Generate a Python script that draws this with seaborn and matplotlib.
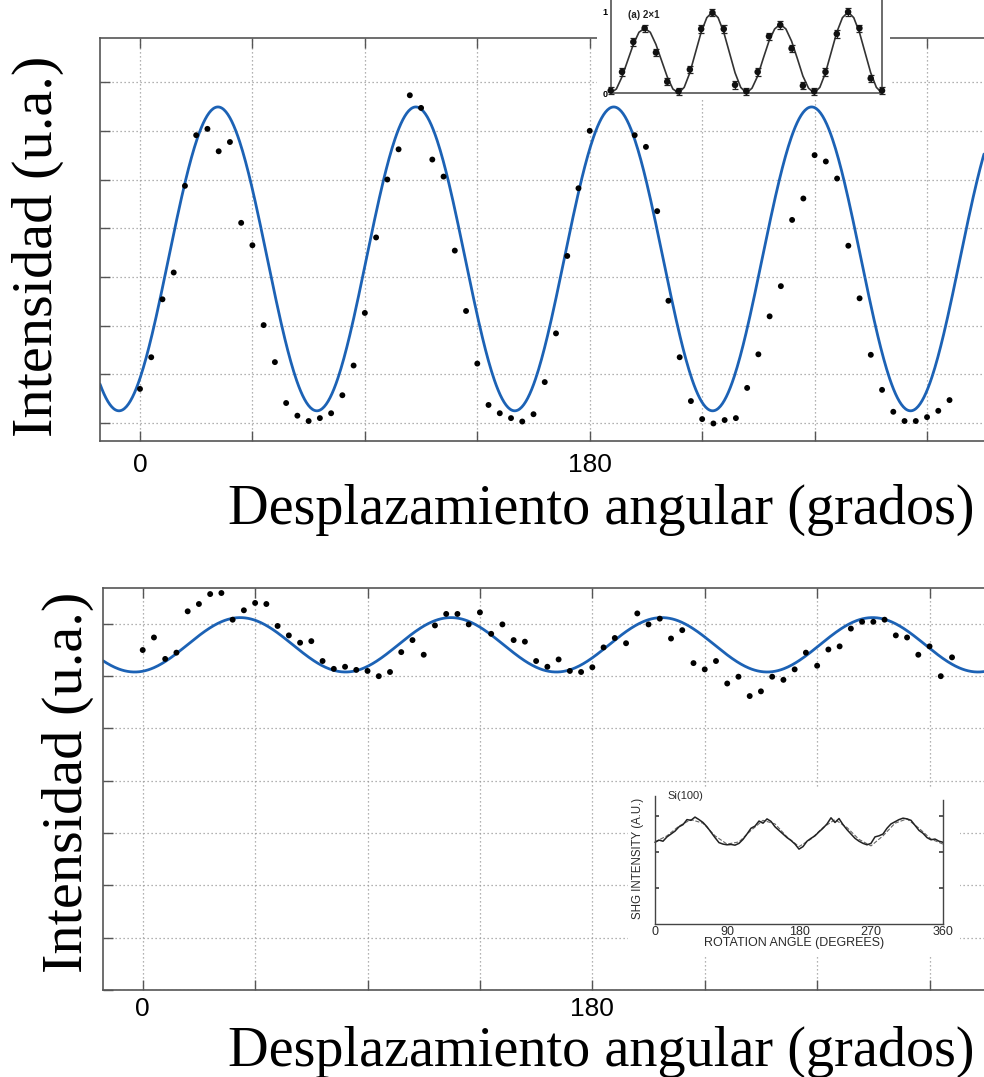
import numpy as np
import pandas as pd
import matplotlib
matplotlib.use("Agg")
import matplotlib.pyplot as plt
import seaborn as sns

# ---------------------------------------------------------------------------
# Measured SHG intensity versus angular displacement (degrees)
# ---------------------------------------------------------------------------
top_angle = [0, 4.5, 9, 13.5, 18, 22.5, 27, 31.5, 36, 40.5, 45, 49.5, 54, 58.5,
             63, 67.5, 72, 76.5, 81, 85.5, 90, 94.5, 99, 103.5, 108, 112.5, 117,
             121.5, 126, 130.5, 135, 139.5, 144, 148.5, 153, 157.5, 162, 166.5,
             171, 175.5, 180, 198, 202.5, 207, 211.5, 216, 220.5, 225, 229.5,
             234, 238.5, 243, 247.5, 252, 256.5, 261, 265.5, 270, 274.5, 279,
             283.5, 288, 292.5, 297, 301.5, 306, 310.5, 315, 319.5, 324]
top_intensity = [0.70, 1.35, 2.54, 3.09, 4.87, 5.91, 6.04, 5.58, 5.77, 4.11,
                 3.65, 2.01, 1.25, 0.41, 0.15, 0.04, 0.10, 0.20, 0.57, 1.18,
                 2.26, 3.81, 5.00, 5.62, 6.73, 6.47, 5.41, 5.06, 3.54, 2.30,
                 1.22, 0.37, 0.20, 0.10, 0.03, 0.18, 0.84, 1.84, 3.43, 4.82,
                 6.00, 5.91, 5.67, 4.35, 2.51, 1.35, 0.45, 0.08, -0.01, 0.06,
                 0.10, 0.72, 1.41, 2.19, 2.81, 4.17, 4.61, 5.50, 5.37, 5.02,
                 3.64, 2.56, 1.40, 0.68, 0.23, 0.04, 0.04, 0.12, 0.25, 0.47]

bottom_angle = [0, 4.5, 9, 13.5, 18, 22.5, 27, 31.5, 36, 40.5, 45, 49.5, 54,
                58.5, 63, 67.5, 72, 76.5, 81, 85.5, 90, 94.5, 99, 103.5, 108,
                112.5, 117, 121.5, 126, 130.5, 135, 139.5, 144, 148.5, 153,
                157.5, 162, 166.5, 171, 175.5, 180, 184.5, 189, 193.5, 198,
                202.5, 207, 211.5, 216, 220.5, 225, 229.5, 234, 238.5, 243,
                247.5, 252, 256.5, 261, 265.5, 270, 274.5, 279, 283.5, 288,
                292.5, 297, 301.5, 306, 310.5, 315, 319.5, 324]
bottom_intensity = [6.50, 6.74, 6.33, 6.45, 7.24, 7.38, 7.57, 7.59, 7.08, 7.26,
                    7.40, 7.38, 6.96, 6.78, 6.64, 6.67, 6.29, 6.14, 6.18, 6.12,
                    6.10, 6.00, 6.08, 6.46, 6.69, 6.41, 6.97, 7.19, 7.19, 6.99,
                    7.22, 6.81, 6.99, 6.69, 6.66, 6.29, 6.18, 6.32, 6.10, 6.08,
                    6.17, 6.55, 6.73, 6.63, 7.20, 6.99, 7.10, 6.72, 6.88, 6.25,
                    6.13, 6.29, 5.86, 5.99, 5.62, 5.71, 5.99, 5.93, 6.13, 6.45,
                    6.20, 6.51, 6.57, 6.91, 7.04, 7.04, 7.08, 6.78, 6.74, 6.41,
                    6.57, 6.00, 6.36]

# Sinusoidal fits: offset, amplitude, period (deg), angle of maximum (deg)
top_fit = (0.25, 6.24, 79.2, 31.2)
bottom_fit = (6.08, 1.04, 84.4, 39.0)

x_tick_values = [0, 45, 90, 135, 180, 225, 270, 315]
x_tick_labels = ["0", "", "", "", "180", "", "", ""]

# ---------------------------------------------------------------------------
# Reference panel (a) 2x1: normalised points with error bars and fitted curve
# ---------------------------------------------------------------------------
ref_a_angle = [0, 15, 30, 45, 60, 75, 90, 105, 120, 135, 150, 165, 180, 195,
               210, 225, 240, 255, 270, 285, 300, 315, 330, 345, 360]
ref_a_points = [0.03, 0.26, 0.63, 0.80, 0.50, 0.14, 0.02, 0.29, 0.79, 0.99,
                0.79, 0.10, 0.02, 0.26, 0.70, 0.84, 0.55, 0.09, 0.02, 0.26,
                0.73, 1.00, 0.80, 0.18, 0.03]
ref_a_err = 0.045
ref_a_curve_angle = [0, 7.5, 15, 22.5, 30, 37.5, 45, 52.5, 60, 67.5, 75, 82.5,
                     90, 97.5, 105, 112.5, 120, 127.5, 135, 142.5, 150, 157.5,
                     165, 172.5, 180, 187.5, 195, 202.5, 210, 217.5, 225, 232.5,
                     240, 247.5, 255, 262.5, 270, 277.5, 285, 292.5, 300, 307.5,
                     315, 322.5, 330, 337.5, 345, 352.5, 360]
ref_a_curve = [0.00, 0.05, 0.20, 0.40, 0.60, 0.75, 0.80, 0.75, 0.60, 0.40,
               0.20, 0.05, 0.00, 0.07, 0.25, 0.50, 0.75, 0.93, 1.00, 0.93,
               0.75, 0.50, 0.25, 0.07, 0.00, 0.06, 0.21, 0.43, 0.64, 0.79,
               0.85, 0.79, 0.64, 0.43, 0.21, 0.06, 0.00, 0.07, 0.25, 0.50,
               0.75, 0.93, 1.00, 0.93, 0.75, 0.50, 0.25, 0.07, 0.00]

# ---------------------------------------------------------------------------
# Reference panel Si(100): recorded SHG signal and its fit
# ---------------------------------------------------------------------------
ref_b_angle = [0, 5, 10, 15, 20, 25, 30, 35, 40, 45, 50, 55, 60, 65, 70, 75,
               80, 85, 90, 95, 100, 105, 110, 115, 120, 125, 130, 135, 140,
               145, 150, 155, 160, 165, 170, 175, 180, 185, 190, 195, 200, 205,
               210, 215, 220, 225, 230, 235, 240, 245, 250, 255, 260, 265, 270,
               275, 280, 285, 290, 295, 300, 305, 310, 315, 320, 325, 330, 335,
               340, 345, 350, 355, 360]
ref_b_signal = [2.27, 2.33, 2.30, 2.42, 2.50, 2.58, 2.70, 2.76, 2.90, 2.88,
                2.97, 2.90, 2.82, 2.70, 2.55, 2.40, 2.26, 2.22, 2.20, 2.21,
                2.19, 2.24, 2.35, 2.50, 2.66, 2.72, 2.86, 2.80, 2.92, 2.85,
                2.70, 2.60, 2.50, 2.40, 2.32, 2.22, 2.08, 2.15, 2.30, 2.38,
                2.45, 2.56, 2.66, 2.78, 2.95, 2.82, 2.93, 2.76, 2.62, 2.50,
                2.38, 2.30, 2.24, 2.20, 2.24, 2.42, 2.45, 2.50, 2.66, 2.78,
                2.84, 2.90, 2.94, 2.92, 2.88, 2.74, 2.60, 2.52, 2.40, 2.34,
                2.36, 2.30, 2.27]
ref_b_fit_angle = [0, 15, 30, 45, 60, 75, 90, 105, 120, 135, 150, 165, 180,
                   195, 210, 225, 240, 255, 270, 285, 300, 315, 330, 345, 360]
ref_b_fit = [2.28, 2.45, 2.72, 2.90, 2.80, 2.45, 2.22, 2.28, 2.60, 2.88, 2.78,
             2.42, 2.15, 2.36, 2.68, 2.90, 2.68, 2.35, 2.17, 2.45, 2.80, 2.92,
             2.66, 2.36, 2.22]
ref_b_ticks = [0, 90, 180, 270, 360]


def sin2_fit(theta, params):
    offset, amp, period, peak = params
    return offset + amp * np.cos(np.pi * (theta - peak) / period) ** 2


# ---------------------------------------------------------------------------
sns.set_theme(style="white")
plt.rcParams["font.family"] = ["Liberation Sans", "DejaVu Sans"]
plt.rcParams["text.color"] = "black"
plt.rcParams["axes.labelcolor"] = "black"
plt.rcParams["xtick.labelcolor"] = "black"
plt.rcParams["ytick.labelcolor"] = "black"

W, H = 984, 1077
fig = plt.figure(figsize=(W / 100, H / 100), dpi=100)
fig.patch.set_facecolor("white")


def rect(left, top, right, bottom):
    return [left / W, 1 - bottom / H, (right - left) / W, (bottom - top) / H]


SERIF = ["Liberation Serif", "DejaVu Serif"]
BLUE = "#1c62b5"
SPINE = "#555555"
INK = "#2a2a2a"


def style_main(ax, xlim, ylim, label_pad):
    ax.set_xlim(*xlim)
    ax.set_ylim(*ylim)
    ax.set_xticks(x_tick_values)
    ax.set_xticklabels(x_tick_labels)
    ax.set_yticks(range(0, 8))
    ax.set_yticklabels([])
    ax.grid(True, linestyle=(0, (1, 2.2)), color="#999999", linewidth=0.9)
    ax.tick_params(axis="x", direction="in", length=7, width=1, color=SPINE,
                   top=True, bottom=True, labelsize=19, pad=label_pad,
                   labelcolor="black")
    ax.tick_params(axis="y", direction="in", length=7, width=1, color=SPINE,
                   left=True, right=False)
    for side in ("left", "top", "bottom"):
        ax.spines[side].set_color(SPINE)
        ax.spines[side].set_linewidth(1.2)
    ax.spines["right"].set_visible(False)
    ax.set_xlabel("")
    ax.set_ylabel("")
    ax.set_facecolor("white")


# ----------------------------- upper panel ---------------------------------
ax1 = fig.add_axes(rect(100, 38, W, 441))
top_xlim = (-16.0, 337.8)
theta1 = np.linspace(top_xlim[0], top_xlim[1], 900)
sns.lineplot(x=theta1, y=sin2_fit(theta1, top_fit), ax=ax1, color=BLUE,
             linewidth=2.0, zorder=2)
df_top = pd.DataFrame({"angle": top_angle, "intensity": top_intensity})
sns.scatterplot(data=df_top, x="angle", y="intensity", ax=ax1, color="black",
                s=18, edgecolor="none", zorder=3)
style_main(ax1, top_xlim, (-0.37, 7.906), 9)

# ----------------------------- lower panel ---------------------------------
ax2 = fig.add_axes(rect(103, 588, W, 990))
bottom_xlim = (-15.9, 336.8)
theta2 = np.linspace(bottom_xlim[0], bottom_xlim[1], 900)
sns.lineplot(x=theta2, y=sin2_fit(theta2, bottom_fit), ax=ax2, color=BLUE,
             linewidth=2.0, zorder=2)
df_bot = pd.DataFrame({"angle": bottom_angle, "intensity": bottom_intensity})
sns.scatterplot(data=df_bot, x="angle", y="intensity", ax=ax2, color="black",
                s=18, edgecolor="none", zorder=3)
style_main(ax2, bottom_xlim, (0, 7.686), 5)

# axis titles
for yc, xc in ((246, 38), (782, 68)):
    fig.text(xc / W, 1 - yc / H, "Intensidad (u.a.)", rotation=90,
             ha="center", va="center", fontsize=42, family=SERIF,
             color="black")
for yc in (510, 1052):
    fig.text(601 / W, 1 - yc / H, "Desplazamiento angular (grados)",
             ha="center", va="center", fontsize=40.5, family=SERIF,
             color="black")

# ----------------------- inset (a) 2x1 on upper panel ----------------------
axa = fig.add_axes(rect(597, 0, 890, 100))
axa.set_facecolor("white")
sns.lineplot(x=ref_a_curve_angle, y=ref_a_curve, ax=axa, color="#333333",
             linewidth=1.2)
axa.errorbar(ref_a_angle, ref_a_points, yerr=ref_a_err, fmt="none",
             ecolor="#222222", elinewidth=0.9, capsize=2.2, capthick=0.9)
sns.scatterplot(x=ref_a_angle, y=ref_a_points, ax=axa, color="#111111", s=22,
                edgecolor="none", zorder=4)
axa.set_xlim(-18.2, 370.6)
axa.set_ylim(-0.086, 1.148)
axa.spines["top"].set_visible(False)
axa.spines["left"].set_position(("data", 0))
axa.spines["right"].set_position(("data", 360))
axa.spines["bottom"].set_position(("data", 0))
axa.spines["bottom"].set_bounds(0, 360)
axa.spines["left"].set_bounds(0, 1.148)
axa.spines["right"].set_bounds(0, 1.148)
for s in axa.spines.values():
    s.set_color("#444444")
    s.set_linewidth(1.1)
axa.set_xticks([])
axa.set_yticks([0, 1])
axa.set_yticklabels(["0", "1"], fontsize=6.5, fontweight="bold")
axa.tick_params(axis="y", direction="in", length=3, pad=2, color="#444444")
axa.set_xlabel("")
axa.set_ylabel("")
axa.text(23, 0.96, "(a) 2\u00d71", fontsize=7, fontweight="bold",
         ha="left", va="center", color="#222222")

# ----------------------- inset Si(100) on lower panel ----------------------
axb = fig.add_axes(rect(628, 788, 960, 955))
axb.set_facecolor("white")
sns.lineplot(x=ref_b_fit_angle, y=ref_b_fit, ax=axb, color="#666666",
             linewidth=0.8, linestyle="--")
sns.lineplot(x=ref_b_angle, y=ref_b_signal, ax=axb, color="#222222",
             linewidth=1.1)
axb.set_xlim(-33.75, 381.25)
axb.set_ylim(-0.861, 3.778)
axb.spines["top"].set_visible(False)
axb.spines["left"].set_position(("data", 0))
axb.spines["right"].set_position(("data", 360))
axb.spines["bottom"].set_position(("data", 0))
axb.spines["bottom"].set_bounds(0, 360)
axb.spines["left"].set_bounds(0, 3.55)
axb.spines["right"].set_bounds(0, 3.45)
for s in axb.spines.values():
    s.set_color("#444444")
    s.set_linewidth(1.0)
axb.set_xticks(ref_b_ticks)
axb.set_xticklabels([str(t) for t in ref_b_ticks], fontsize=9, color=INK)
axb.tick_params(axis="x", length=0, pad=1.5)
axb.set_yticks([1, 2, 3])
axb.set_yticklabels([])
axb.tick_params(axis="y", direction="in", length=3, left=True, right=True,
                color="#444444")
axb.set_xlabel("ROTATION ANGLE (DEGREES)", fontsize=9, color=INK,
               labelpad=-1)
axb.set_ylabel("")
axb.text(0.03, 0.58, "SHG INTENSITY (A.U.)", transform=axb.transAxes,
         rotation=90, ha="center", va="center", fontsize=8.3, color=INK)
axb.text(15, 3.56, "Si(100)", fontsize=8, ha="left", va="center", color=INK)

fig.savefig("out.png", dpi=100, facecolor="white")
